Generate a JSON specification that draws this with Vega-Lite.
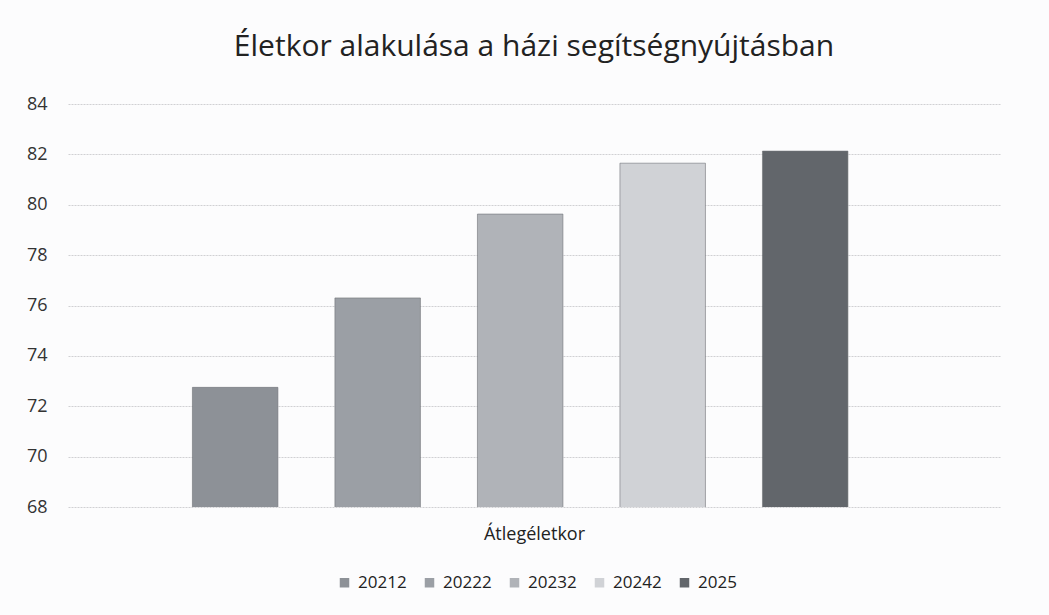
{
  "$schema": "https://vega.github.io/schema/vega-lite/v6.json",
  "autosize": {"type": "none"},
  "padding": {"left": 68, "top": 104, "right": 49, "bottom": 108},
  "width": 932,
  "height": 403,
  "background": "#fcfcfd",
  "title": {
    "text": "Életkor alakulása a házi segítségnyújtásban",
    "fontSize": 30,
    "font": "Open Sans",
    "fontWeight": "normal",
    "color": "#222222",
    "anchor": "middle",
    "offset": 33
  },
  "config": {
    "view": {"stroke": null},
    "font": "Open Sans"
  },
  "data": {
    "values": [
      {"kategoria": "Átlegéletkor", "ev": "20212", "ertek": 72.75},
      {"kategoria": "Átlegéletkor", "ev": "20222", "ertek": 76.3},
      {"kategoria": "Átlegéletkor", "ev": "20232", "ertek": 79.63},
      {"kategoria": "Átlegéletkor", "ev": "20242", "ertek": 81.65},
      {"kategoria": "Átlegéletkor", "ev": "2025", "ertek": 82.13}
    ]
  },
  "mark": {"type": "bar", "clip": true, "stroke": "#6e7277", "strokeWidth": 0.6},
  "encoding": {
    "x": {
      "field": "ev",
      "type": "nominal",
      "sort": null,
      "title": "Átlegéletkor",
      "scale": {"paddingInner": 0.4, "paddingOuter": 0.97, "align": 0.45},
      "axis": {
        "labels": false,
        "ticks": false,
        "domain": false,
        "titleFontSize": 18,
        "titleFontWeight": "normal",
        "titleColor": "#222222",
        "titlePadding": 18
      }
    },
    "y": {
      "field": "ertek",
      "type": "quantitative",
      "title": null,
      "scale": {"domain": [68, 84], "zero": false, "nice": false},
      "axis": {
        "values": [68, 70, 72, 74, 76, 78, 80, 82, 84],
        "ticks": false,
        "domain": false,
        "labelFontSize": 18,
        "labelColor": "#333333",
        "labelPadding": 21,
        "gridColor": "#d0d0d3",
        "gridWidth": 1,
        "gridDash": [2, 1]
      }
    },
    "color": {
      "field": "ev",
      "type": "nominal",
      "sort": null,
      "scale": {
        "domain": ["20212", "20222", "20232", "20242", "2025"],
        "range": ["#8d9197", "#9b9fa5", "#b0b3b8", "#d0d2d6", "#62666b"]
      },
      "legend": {
        "title": null,
        "orient": "none",
        "direction": "horizontal",
        "legendX": 268,
        "legendY": 470,
        "symbolType": "square",
        "symbolSize": 90,
        "symbolStrokeWidth": 0,
        "labelFontSize": 17,
        "labelColor": "#222222",
        "columnPadding": 14,
        "labelOffset": 5
      }
    }
  }
}
